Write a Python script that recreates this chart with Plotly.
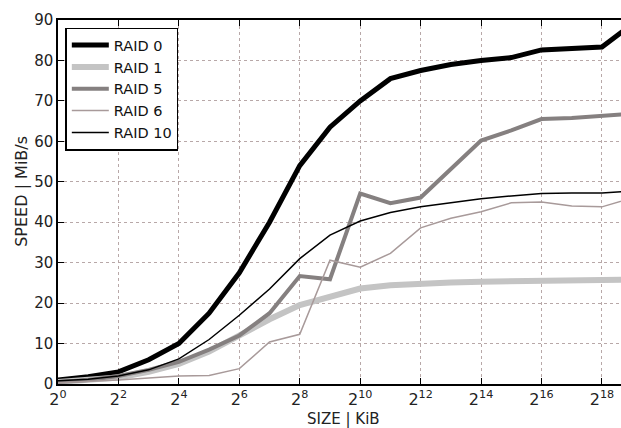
import plotly.graph_objects as go

exponents = list(range(0, 20))
sizes = [2 ** e for e in exponents]

raid0 = [1.0, 1.8, 3.0, 6.0, 10.0, 17.5, 27.5, 40.0, 54.0, 63.5, 70.0, 75.5, 77.5, 79.0, 80.0, 80.7, 82.6, 83.0, 83.3, 89.0]
raid1 = [0.5, 0.9, 1.6, 3.0, 5.0, 8.0, 12.0, 16.0, 19.5, 21.7, 23.6, 24.4, 24.9, 25.1, 25.3, 25.4, 25.5, 25.6, 25.7, 25.8]
raid5 = [0.5, 1.0, 2.0, 3.5, 5.5, 8.5, 12.0, 17.5, 26.7, 25.9, 47.1, 44.7, 46.1, 53.0, 60.2, 62.7, 65.5, 65.8, 66.2, 66.8]
raid6 = [0.3, 0.6, 1.0, 1.5, 2.0, 2.1, 3.8, 10.4, 12.3, 30.6, 28.9, 32.3, 38.6, 41.0, 42.6, 44.8, 45.0, 44.0, 43.8, 46.0]
raid10 = [0.8, 1.2, 2.0, 3.5, 6.2, 11.0, 17.0, 23.5, 31.0, 36.8, 40.3, 42.4, 43.8, 44.8, 45.8, 46.5, 47.1, 47.2, 47.2, 47.7]

series = [
    ("RAID 0", raid0, "#000000", 5),
    ("RAID 1", raid1, "#c4c4c4", 6),
    ("RAID 5", raid5, "#858080", 4),
    ("RAID 6", raid6, "#a89a9a", 1.5),
    ("RAID 10", raid10, "#000000", 1.5),
]

xtick_exps = list(range(0, 20, 2))
xtick_vals = [2 ** e for e in xtick_exps]
xtick_text = ["2<sup>%d</sup>" % e for e in xtick_exps]
ytick_vals = list(range(0, 91, 10))

fig = go.Figure()
for name, vals, color, width in series:
    fig.add_trace(go.Scatter(x=sizes, y=vals, mode="lines", name=name,
                             line=dict(color=color, width=width)))

font_family = "DejaVu Sans"
W, H = 621, 428
L, T, B = 57.5, 19.5, 44
fig.update_layout(
    width=W, height=H,
    margin=dict(l=L, r=0, t=T, b=B, autoexpand=False),
    paper_bgcolor="white", plot_bgcolor="white",
    font=dict(family=font_family, color="#222222"),
    showlegend=True,
    legend=dict(x=0.013, y=0.979, xanchor="left", yanchor="top",
                bordercolor="#000000", borderwidth=1.5, bgcolor="white",
                font=dict(size=14.5, family=font_family, color="#111111"),
                itemwidth=37),
    annotations=[
        dict(text="SIZE | KiB", xref="paper", yref="paper",
             x=(343 - L) / (W - L), y=-(419.5 - (H - B)) / (H - T - B),
             xanchor="center", yanchor="middle", showarrow=False,
             font=dict(size=15, family=font_family, color="#222222")),
        dict(text="SPEED | MiB/s", xref="paper", yref="paper",
             x=-(L - 21) / (W - L), y=((H - B) - 191) / (H - T - B),
             xanchor="center", yanchor="middle", showarrow=False, textangle=-90,
             font=dict(size=16, family=font_family, color="#222222")),
    ],
)
fig.update_xaxes(
    type="log", range=[0, 18.63 * 0.30103],
    tickvals=xtick_vals, ticktext=xtick_text,
    tickfont=dict(size=16, family=font_family),
    showline=True, linecolor="#000000", linewidth=1.5, mirror="ticks",
    ticks="inside", ticklen=6, tickcolor="#000000",
    showgrid=True, gridcolor="#b8a8a8", griddash="dot", gridwidth=1,
    zeroline=False,
)
fig.update_yaxes(
    range=[0, 90], tickvals=ytick_vals,
    tickfont=dict(size=15, family=font_family),
    showline=True, linecolor="#000000", linewidth=1.5,
    ticks="inside", ticklen=6, tickcolor="#000000",
    showgrid=True, gridcolor="#b8a8a8", griddash="dot", gridwidth=1,
    zeroline=False,
)

fig.write_html(
    "out.html",
    config={"displayModeBar": False},
    post_script="document.body.style.margin='0';document.body.style.overflow='hidden';",
)
